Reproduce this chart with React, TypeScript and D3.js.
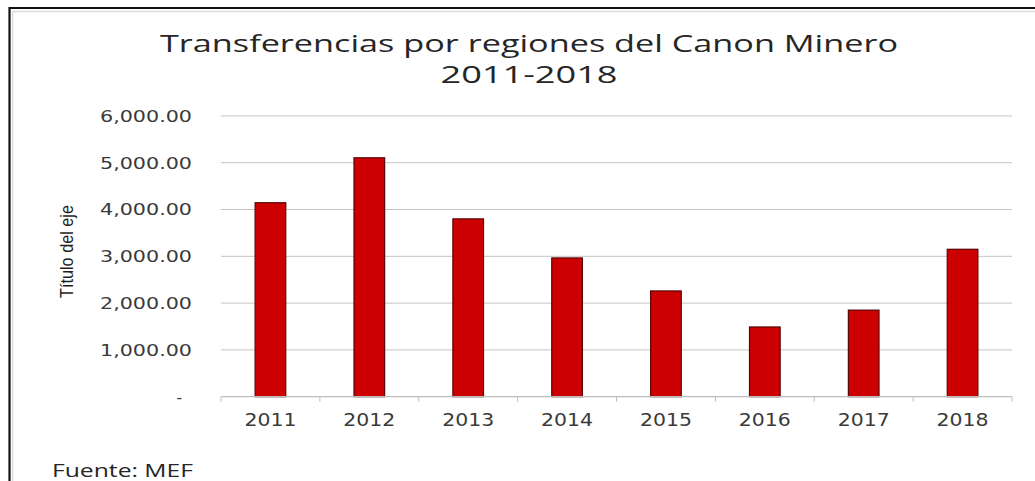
import React, { useEffect, useRef } from "react";
import * as d3 from "d3";

const years: string[] = ["2011", "2012", "2013", "2014", "2015", "2016", "2017", "2018"];
const transfers: number[] = [4145, 5105, 3800, 2965, 2260, 1490, 1850, 3150];
const yTicks: number[] = [0, 1000, 2000, 3000, 4000, 5000, 6000];
const titleLines: string[] = ["Transferencias por regiones del Canon Minero", "2011-2018"];
const yAxisTitle = "Título del eje";
const sourceNote = "Fuente: MEF";

const W = 1035;
const H = 481;

export default function App() {
  const ref = useRef<SVGSVGElement | null>(null);

  useEffect(() => {
    const svg = d3.select(ref.current);
    svg.selectAll("*").remove();

    // frame (left and top edges; right and bottom run off the picture)
    svg.append("rect").attr("x", 0).attr("y", 0).attr("width", W).attr("height", H).attr("fill", "#ffffff");
    svg.append("path").attr("d", `M9.5,${H + 5} V8 H${W + 5}`)
      .attr("fill", "none").attr("stroke", "#111").attr("stroke-width", 2.2);
    svg.append("path").attr("d", `M12.5,${H} V11.5 H${W}`).attr("fill", "none").attr("stroke", "#dcdcdc").attr("stroke-width", 1.5);

    const x = d3.scaleBand<string>().domain(years).range([221, 1012]).paddingInner(0.69).paddingOuter(0.345);
    const y = d3.scaleLinear().domain([0, 6000]).range([396.7, 115.9]);

    // gridlines
    svg.append("g").selectAll("line").data(yTicks.filter((t) => t > 0)).join("line")
      .attr("x1", 221).attr("x2", 1012)
      .attr("y1", (d) => y(d)).attr("y2", (d) => y(d))
      .attr("stroke", "#c4c4c4").attr("stroke-width", 1);

    // y tick labels
    const fmt = d3.format(",.2f");
    svg.append("g").selectAll("text").data(yTicks).join("text")
      .attr("x", (d) => (d === 0 ? 182 : 192))
      .attr("y", (d) => y(d) + 5.8)
      .attr("text-anchor", "end")
      .attr("font-family", "DejaVu Sans, Verdana, sans-serif")
      .attr("font-size", 15.5)
      .attr("fill", "#3a3a3a")
      .each(function (d) {
        if (d !== 0) {
          d3.select(this).attr("textLength", 92).attr("lengthAdjust", "spacingAndGlyphs");
        }
      })
      .text((d) => (d === 0 ? "-" : fmt(d)));

    // bars
    svg.append("g").selectAll("rect").data(transfers).join("rect")
      .attr("x", (_d, i) => x(years[i]) as number)
      .attr("width", x.bandwidth())
      .attr("y", (d) => y(d))
      .attr("height", (d) => y(0) - y(d))
      .attr("fill", "#cc0000")
      .attr("stroke", "#5a0505")
      .attr("stroke-width", 1.2);

    // x axis line + ticks
    const ax = svg.append("g");
    ax.append("line").attr("x1", 221).attr("x2", 1012).attr("y1", y(0)).attr("y2", y(0))
      .attr("stroke", "#bdbdbd").attr("stroke-width", 1.2);
    const bounds = years.map((_d, i) => 221 + i * x.step()).concat([1012]);
    ax.selectAll("line.tk").data(bounds).join("line").attr("class", "tk")
      .attr("x1", (d) => d).attr("x2", (d) => d)
      .attr("y1", y(0)).attr("y2", y(0) + 5)
      .attr("stroke", "#bdbdbd").attr("stroke-width", 1);

    // x labels
    ax.selectAll("text").data(years).join("text")
      .attr("x", (d) => (x(d) as number) + x.bandwidth() / 2)
      .attr("y", 426)
      .attr("text-anchor", "middle")
      .attr("font-family", "DejaVu Sans, Verdana, sans-serif")
      .attr("font-size", 18)
      .attr("fill", "#3a3a3a")
      .attr("textLength", 52)
      .attr("lengthAdjust", "spacingAndGlyphs")
      .text((d) => d);

    // title
    const titleCenter = 529;
    const tg = svg.append("g").attr("font-family", "Open Sans, Lato, sans-serif").attr("fill", "#262626");
    tg.append("text").attr("x", titleCenter).attr("y", 52).attr("text-anchor", "middle")
      .attr("font-size", 24).attr("textLength", 738).attr("lengthAdjust", "spacingAndGlyphs")
      .text(titleLines[0]);
    tg.append("text").attr("x", titleCenter).attr("y", 83).attr("text-anchor", "middle")
      .attr("font-size", 23).attr("textLength", 177).attr("lengthAdjust", "spacingAndGlyphs")
      .text(titleLines[1]);

    // y axis title
    svg.append("text")
      .attr("transform", `translate(73,251.5) rotate(-90)`)
      .attr("text-anchor", "middle")
      .attr("font-family", "Liberation Sans Narrow, Arial Narrow, Liberation Sans, sans-serif")
      .attr("font-size", 19)
      .attr("fill", "#1e1e1e")
      .attr("textLength", 93)
      .attr("lengthAdjust", "spacingAndGlyphs")
      .text(yAxisTitle);

    // source
    svg.append("text").attr("x", 52).attr("y", 477)
      .attr("font-family", "Open Sans, Lato, sans-serif")
      .attr("font-size", 18.5)
      .attr("fill", "#262626")
      .attr("textLength", 141)
      .attr("lengthAdjust", "spacingAndGlyphs")
      .text(sourceNote);
  }, []);

  return (
    <svg
      ref={ref}
      width={W}
      height={H}
      style={{ position: "absolute", left: 0, top: 0, display: "block" }}
    />
  );
}
